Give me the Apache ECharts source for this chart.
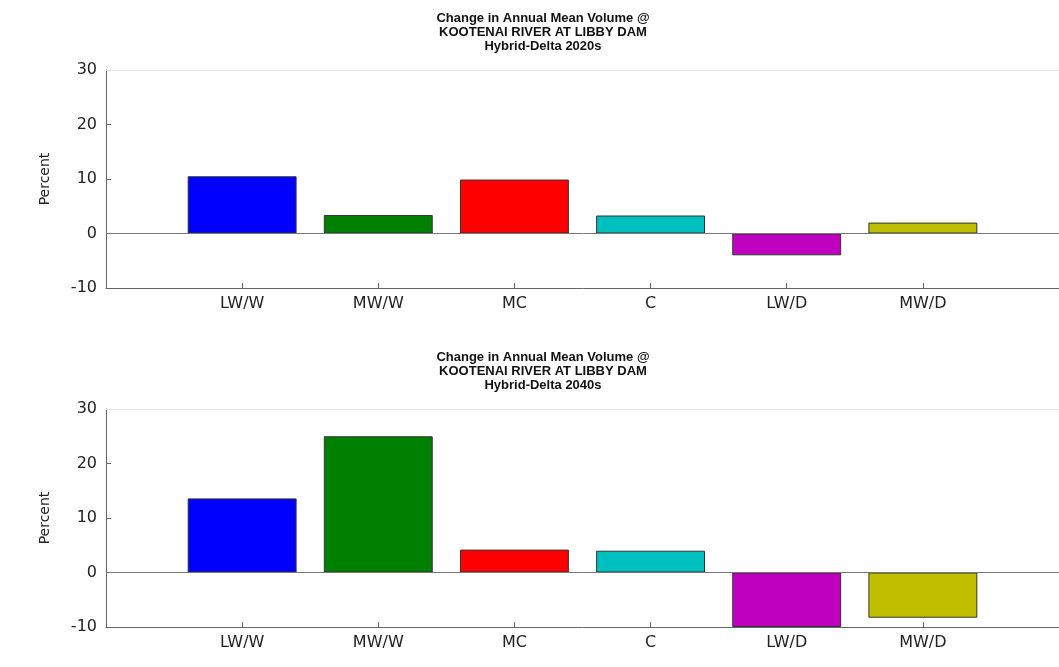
<!DOCTYPE html>
<html>
<head>
<meta charset="utf-8">
<script src="https://cdn.jsdelivr.net/npm/echarts@6/dist/echarts.min.js"></script>
<style>
  html, body { margin: 0; padding: 0; background: #fff; }
  #chart { width: 1059px; height: 667px; }
</style>
</head>
<body>
<div id="chart"></div>
<script>
const categories = ['LW/W', 'MW/W', 'MC', 'C', 'LW/D', 'MW/D'];
const values2020s = [10.5, 3.4, 9.9, 3.3, -4.0, 2.0];
const values2040s = [13.6, 25.0, 4.2, 4.0, -10.0, -8.3];
const barColors = ['#0000FF', '#008000', '#FF0000', '#00BFBF', '#BF00BF', '#BFBF00'];
const yTickValues = [-10, 0, 10, 20, 30];
const title2020s = 'Change in Annual Mean Volume @\nKOOTENAI RIVER AT LIBBY DAM\nHybrid-Delta 2020s';
const title2040s = 'Change in Annual Mean Volume @\nKOOTENAI RIVER AT LIBBY DAM\nHybrid-Delta 2040s';

const FONT = '"DejaVu Sans", Verdana, sans-serif';
const TITLE_FONT = '"Liberation Sans", Arial, sans-serif';
const chart = echarts.init(document.getElementById('chart'), null, { renderer: 'canvas' });

function makeBars(vals) {
  return categories.map((c, i) => ({
    value: [i + 1, vals[i]],
    itemStyle: { color: barColors[i] }
  }));
}

function xAxisFor(gridIndex) {
  return {
    type: 'value', gridIndex, min: 0, max: categories.length + 1, interval: 1,
    axisLine: { show: true, onZero: false, lineStyle: { color: '#666', width: 1 } },
    axisTick: { show: true, inside: true, length: 5, lineStyle: { color: '#666' } },
    axisLabel: {
      color: '#222', fontSize: 16, fontFamily: FONT, margin: 8,
      formatter: v => categories[v - 1] || '',
      showMinLabel: false, showMaxLabel: false
    },
    splitLine: { show: false }
  };
}

function yAxisFor(gridIndex) {
  return {
    type: 'value', gridIndex, min: yTickValues[0], max: yTickValues[yTickValues.length - 1],
    interval: yTickValues[1] - yTickValues[0],
    name: 'Percent', nameLocation: 'middle', nameGap: 54, nameRotate: 90,
    nameTextStyle: { color: '#222', fontSize: 14, fontFamily: FONT },
    axisLine: { show: true, onZero: false, lineStyle: { color: '#666', width: 1 } },
    axisTick: { show: true, inside: true, length: 5, lineStyle: { color: '#666' } },
    axisLabel: { color: '#222', fontSize: 16, fontFamily: FONT, margin: 9 },
    splitLine: { show: false }
  };
}

function barSeries(vals, idx) {
  return {
    type: 'bar', xAxisIndex: idx, yAxisIndex: idx,
    data: makeBars(vals),
    barWidth: '80%',
    itemStyle: { borderColor: '#333', borderWidth: 1 },
    silent: true,
    markLine: {
      silent: true, symbol: ['none', 'none'], label: { show: false },
      animation: false,
      data: [
        { yAxis: 0, lineStyle: { color: '#777', width: 1, type: 'solid' } },
        { yAxis: yTickValues[yTickValues.length - 1], lineStyle: { color: '#e4e4e4', width: 1, type: 'solid' } }
      ]
    }
  };
}

const titleStyle = { color: '#111', fontSize: 13, fontWeight: 'bold', fontFamily: TITLE_FONT, lineHeight: 14 };

chart.setOption({
  animation: false,
  backgroundColor: '#fff',
  title: [
    { text: title2020s, left: 543, top: 11, padding: 0, textAlign: 'center', textStyle: titleStyle },
    { text: title2040s, left: 543, top: 350, padding: 0, textAlign: 'center', textStyle: titleStyle }
  ],
  grid: [
    { left: 106, right: -4, top: 70, height: 218 },
    { left: 106, right: -4, top: 409, height: 218 }
  ],
  xAxis: [xAxisFor(0), xAxisFor(1)],
  yAxis: [yAxisFor(0), yAxisFor(1)],
  series: [barSeries(values2020s, 0), barSeries(values2040s, 1)]
});
</script>
</body>
</html>
